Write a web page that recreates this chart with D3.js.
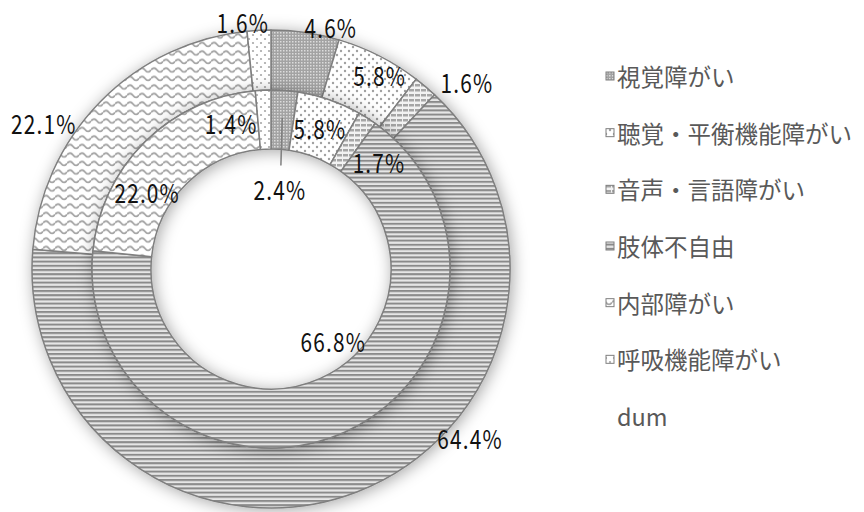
<!DOCTYPE html>
<html><head><meta charset="utf-8">
<script src="https://cdn.jsdelivr.net/npm/d3@7"></script>
<style>
html,body{margin:0;padding:0;background:#fff;}
svg{display:block;}
</style></head>
<body>
<svg id="chart" width="864" height="512"></svg>
<script>
// ---- data ----
const categories = ["視覚障がい","聴覚・平衡機能障がい","音声・言語障がい","肢体不自由","内部障がい","呼吸機能障がい"];
const legendLabels = ["視覚障がい","聴覚・平衡機能障がい","音声・言語障がい","肢体不自由","内部障がい","呼吸機能障がい","dum"];
const outerValues = [4.6, 5.8, 1.6, 64.4, 22.1, 1.6];
const innerValues = [2.4, 5.8, 1.7, 66.8, 22.0, 1.4];

// ---- label placement (angle in degrees clockwise from top, radius in px) ----
const outerLabelPos = [[13.9,249],[29.3,222],[46.3,271],[130.3,261],[302.7,270],[353.5,249]];
const innerLabelPos = [[6.3,81],[19.2,149],[45.3,152],[139,95],[302,146],[344.7,151]];

const svg = d3.select("#chart");
const cx = 271, cy = 269;
const rOuter = 239, rMid = 179, rInner = 120;

const defs = svg.append("defs");
// shadow filter
const f = defs.append("filter").attr("id","shadow").attr("x","-20%").attr("y","-20%").attr("width","140%").attr("height","140%");
f.append("feDropShadow").attr("dx",2).attr("dy",2).attr("stdDeviation",8).attr("flood-color","#000").attr("flood-opacity",0.35);

// patterns
const patIds = ["p0","p1","p2","p3","p4","p5"];
// 0: dense checker (gray)
let p = defs.append("pattern").attr("id","p0").attr("patternUnits","userSpaceOnUse").attr("width",3).attr("height",3);
p.append("rect").attr("width",3).attr("height",3).attr("fill","#a3a3a3");
p.append("rect").attr("width",1.5).attr("height",1.5).attr("fill","#dcdcdc");
// 1: sparse dots
p = defs.append("pattern").attr("id","p1").attr("patternUnits","userSpaceOnUse").attr("width",8).attr("height",8);
p.append("rect").attr("width",8).attr("height",8).attr("fill","#fff");
p.append("circle").attr("cx",2).attr("cy",2).attr("r",1.2).attr("fill","#a0a0a0");
p.append("circle").attr("cx",6).attr("cy",6).attr("r",1.2).attr("fill","#a0a0a0");
// 2: dashed horizontal bands
p = defs.append("pattern").attr("id","p2").attr("patternUnits","userSpaceOnUse").attr("width",6).attr("height",5);
p.append("rect").attr("width",6).attr("height",5).attr("fill","#f2f2f2");
p.append("rect").attr("y",0).attr("width",5).attr("height",2.5).attr("fill","#a6a6a6");
// 3: horizontal lines
p = defs.append("pattern").attr("id","p3").attr("patternUnits","userSpaceOnUse").attr("width",4).attr("height",4.2);
p.append("rect").attr("width",4).attr("height",4.2).attr("fill","#e6e6e6");
p.append("rect").attr("y",0).attr("width",4).attr("height",2).attr("fill","#8a8a8a");
// 4: wavy
p = defs.append("pattern").attr("id","p4").attr("patternUnits","userSpaceOnUse").attr("width",12).attr("height",8.5);
p.append("rect").attr("width",12).attr("height",8.5).attr("fill","#fff");
p.append("path").attr("d","M0,5 Q3,1 6,5 T12,5").attr("fill","none").attr("stroke","#a3a3a3").attr("stroke-width",1.8);
// 5: sparse dots
p = defs.append("pattern").attr("id","p5").attr("patternUnits","userSpaceOnUse").attr("width",8).attr("height",8);
p.append("rect").attr("width",8).attr("height",8).attr("fill","#fff");
p.append("circle").attr("cx",2).attr("cy",2).attr("r",1.1).attr("fill","#a8a8a8");
p.append("circle").attr("cx",6).attr("cy",6).attr("r",1.1).attr("fill","#a8a8a8");

const pie = d3.pie().sort(null).value(d => d).startAngle(0).endAngle(2*Math.PI);
const arcOuter = d3.arc().innerRadius(rMid).outerRadius(rOuter);
const arcInner = d3.arc().innerRadius(rInner).outerRadius(rMid);

const g = svg.append("g").attr("transform",`translate(${cx},${cy})`);

function drawRing(values, arc){
  const rg = g.append("g").attr("filter","url(#shadow)");
  rg.selectAll("path").data(pie(values)).join("path")
    .attr("d", arc)
    .attr("fill", (d,i) => `url(#${patIds[i]})`)
    .attr("stroke","#7f7f7f").attr("stroke-width",1.5).attr("stroke-linejoin","round");
}
drawRing(outerValues, arcOuter);
drawRing(innerValues, arcInner);

const fmt = v => v.toFixed(1) + "%";
function polar(a, r){ const t = a*Math.PI/180; return [r*Math.sin(t), -r*Math.cos(t)]; }

function drawLabels(values, pos, arc, leaderIdx){
  pie(values).forEach((d,i) => {
    const [x,y] = polar(pos[i][0], pos[i][1]);
    if (leaderIdx === i){
      const c = arc.centroid(d);
      g.append("line").attr("x1",c[0]).attr("y1",c[1]-2).attr("x2",x+1).attr("y2",y-23)
        .attr("stroke","#7f7f7f").attr("stroke-width",1.5);
    }
    g.append("text")
      .attr("transform",`translate(${x},${y}) scale(0.8,1)`)
      .attr("text-anchor","middle").attr("dominant-baseline","central")
      .style("font-family","'Noto Sans CJK JP','Noto Sans',sans-serif")
      .style("font-size","26px").style("letter-spacing","1.5px").attr("fill","#111")
      .text(fmt(values[i]));
  });
}
drawLabels(outerValues, outerLabelPos, arcOuter, -1);
drawLabels(innerValues, innerLabelPos, arcInner, 0);

// legend
const legY = d3.scalePoint().domain(legendLabels).range([76, 416]);
const lg = svg.append("g");
legendLabels.forEach((lab,i) => {
  const y = legY(lab);
  if (i < categories.length){
    lg.append("rect").attr("x",606).attr("y",y-4).attr("width",8).attr("height",8)
      .attr("fill",`url(#${patIds[i]})`).attr("stroke","#7f7f7f").attr("stroke-width",1);
  }
  lg.append("text").attr("x", 617).attr("y", y)
    .attr("dominant-baseline","central")
    .style("font-family","'Noto Sans CJK JP','Noto Sans',sans-serif")
    .style("font-size","23.5px").attr("fill","#595959")
    .text(lab);
});
</script>
</body></html>
